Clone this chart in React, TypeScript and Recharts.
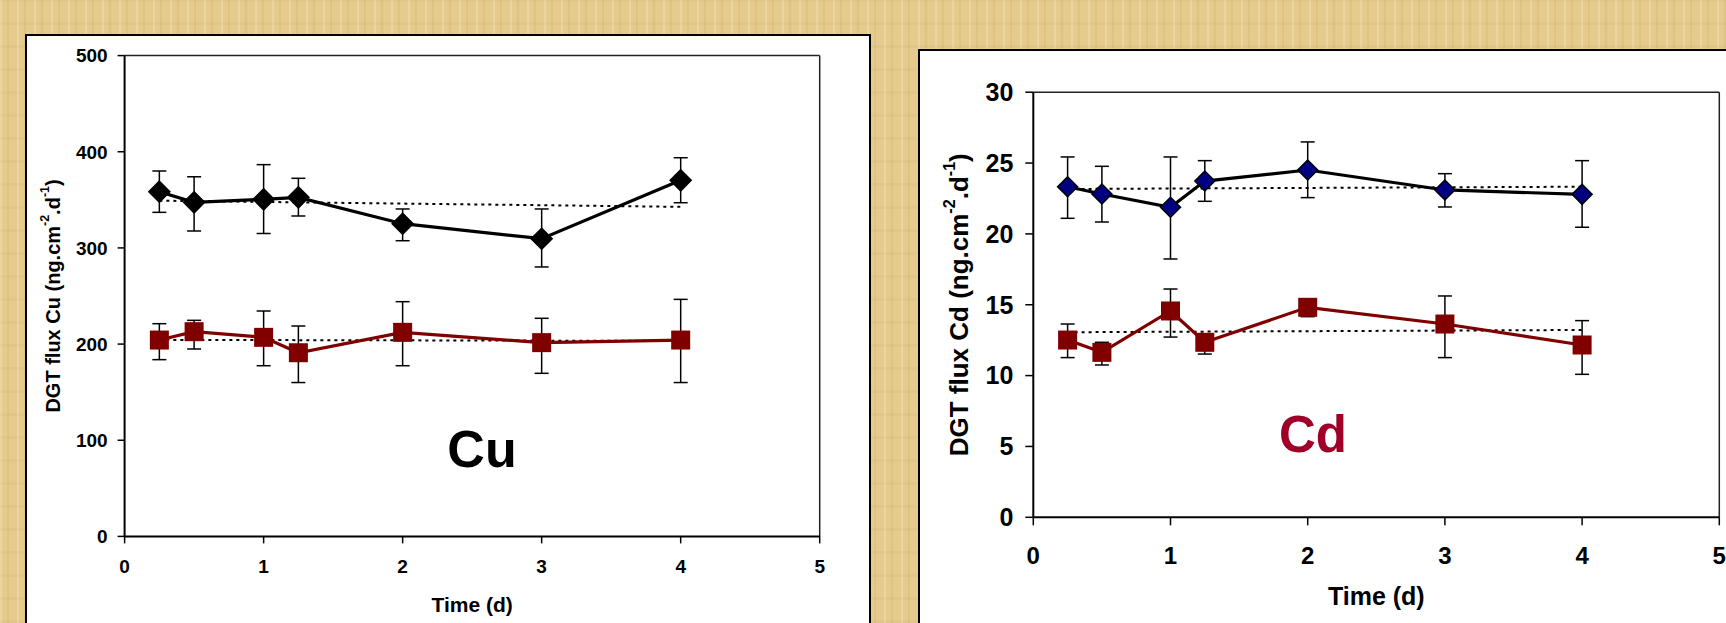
import { LineChart, Line, XAxis, YAxis, ErrorBar, ReferenceLine } from "recharts";

// time points (d)
const days = [0.25, 0.5, 1, 1.25, 2, 3, 4];
const trendDays = [0.25, 4];
const xTicks = [0, 1, 2, 3, 4, 5];

// Cu panel
const cuTicks = [0, 100, 200, 300, 400, 500];
const cuHigh = [358.5, 347.4, 350.5, 352.6, 325.2, 309.6, 370.3];
const cuHighTop = [380, 374, 386.6, 372.4, 340.5, 340.5, 393.8];
const cuHighBottom = [337, 317.6, 315, 333.2, 307.5, 280.2, 347];
const cuLow = [204.2, 212.9, 207, 191, 212.2, 201.5, 204.2];
const cuLowTop = [221.2, 224.7, 234.4, 218.8, 244.1, 226.8, 246.5];
const cuLowBottom = [183.8, 194.9, 177.5, 160, 177.5, 169.6, 160];
const cuHighTrend = [349.1, 342.7];
const cuLowTrend = [204.4, 203.3];

// Cd panel
const cdTicks = [0, 5, 10, 15, 20, 25, 30];
const cdHigh = [23.33, 22.82, 21.88, 23.73, 24.51, 23.1, 22.79];
const cdHighTop = [25.43, 24.77, 25.43, 25.17, 26.49, 24.25, 25.17];
const cdHighBottom = [21.1, 20.84, 18.23, 22.3, 22.56, 21.9, 20.47];
const cdLow = [12.51, 11.64, 14.56, 12.35, 14.82, 13.64, 12.16];
const cdLowTop = [13.64, 12.35, 16.11, 12.92, 15.25, 15.62, 13.88];
const cdLowBottom = [11.27, 10.75, 12.72, 11.52, 14.16, 11.27, 10.09];
const cdHighTrend = [23.17, 23.33];
const cdLowTrend = [13.06, 13.22];

const FONT = "'Liberation Sans', Arial, sans-serif";
const RED = "#800000";
const Y_AXIS_W = 60;
const X_AXIS_H = 30;

const rows = (v: number[], top: number[], bottom: number[]) =>
  days.map((t, i) => ({ t, v: v[i], err: [v[i] - bottom[i], top[i] - v[i]] }));
const trend = (v: number[]) => trendDays.map((t, i) => ({ t, v: v[i] }));

const diamond = (fill: string, r: number) => (p: any) => {
  const { cx, cy, index } = p;
  if (cx == null || cy == null) return <g key={index} />;
  return (
    <path
      key={index}
      d={`M${cx},${cy - r}L${cx + r},${cy}L${cx},${cy + r}L${cx - r},${cy}Z`}
      fill={fill}
      stroke="#000"
      strokeWidth={1.5}
    />
  );
};

const square = (s: number) => (p: any) => {
  const { cx, cy, index } = p;
  if (cx == null || cy == null) return <g key={index} />;
  return <rect key={index} x={cx - s / 2} y={cy - s / 2} width={s} height={s} fill={RED} />;
};

function yTitle(metal: string, size: number, dist: number, fallback: any) {
  return (props: any) => {
    const vb = props.viewBox && props.viewBox.height ? props.viewBox : fallback;
    const cx = vb.x + (vb.width || 0) - dist;
    const cy = vb.y + vb.height / 2;
    const sup = size * 0.62;
    const rise = size * 0.4;
    return (
      <text
        x={cx}
        y={cy}
        transform={`rotate(-90, ${cx}, ${cy})`}
        textAnchor="middle"
        dominantBaseline="central"
        fontFamily={FONT}
        fontWeight="bold"
        fontSize={size}
        fill="#000"
      >
        {`DGT flux ${metal} (ng.cm`}
        <tspan fontSize={sup} dy={-rise}>-2</tspan>
        <tspan dy={rise}>.d</tspan>
        <tspan fontSize={sup} dy={-rise}>-1</tspan>
        <tspan dy={rise}>)</tspan>
      </text>
    );
  };
}

type PanelProps = {
  left: number;
  width: number;
  height: number;
  plot: { top: number; right: number; bottom: number; left: number };
  metal: string;
  yTicks: number[];
  high: any[];
  low: any[];
  highTrend: any[];
  lowTrend: any[];
  highFill: string;
  tickFont: number;
  xTickFont: number;
  xTitleFont: number;
  yTitleFont: number;
  yTitleDist: number;
  yTick: { size: number; margin: number };
  xTick: { size: number; margin: number };
  xTitleOffset: number;
  markR: number;
  sq: number;
};

function Panel(p: PanelProps) {
  const yMax = p.yTicks[p.yTicks.length - 1];
  const margin = {
    top: p.plot.top,
    right: p.width - p.plot.right,
    bottom: p.height - p.plot.bottom - X_AXIS_H,
    left: p.plot.left - Y_AXIS_W,
  };
  const fallback = {
    x: p.plot.left - Y_AXIS_W,
    width: Y_AXIS_W,
    y: p.plot.top,
    height: p.plot.bottom - p.plot.top,
  };
  return (
    <div style={{ position: "absolute", left: p.left, top: 0 }}>
      <LineChart width={p.width} height={p.height} margin={margin} style={{ overflow: "visible" }}>
        <XAxis
          dataKey="t"
          type="number"
          domain={[0, 5]}
          ticks={xTicks}
          height={X_AXIS_H}
          axisLine={{ stroke: "#000", strokeWidth: 2 }}
          tickLine={{ stroke: "#000", strokeWidth: 1.5 }}
          tickSize={p.xTick.size}
          tickMargin={p.xTick.margin}
          tick={{ fontSize: p.xTickFont, fontWeight: "bold", fill: "#000", fontFamily: FONT }}
          label={{
            value: "Time (d)",
            position: "bottom",
            offset: p.xTitleOffset - X_AXIS_H,
            fontSize: p.xTitleFont,
            fontWeight: "bold",
            fill: "#000",
            fontFamily: FONT,
          }}
        />
        <YAxis
          type="number"
          domain={[0, yMax]}
          ticks={p.yTicks}
          width={Y_AXIS_W}
          axisLine={{ stroke: "#000", strokeWidth: 2 }}
          tickLine={{ stroke: "#000", strokeWidth: 1.5 }}
          tickSize={p.yTick.size}
          tickMargin={p.yTick.margin}
          tick={{ fontSize: p.tickFont, fontWeight: "bold", fill: "#000", fontFamily: FONT }}
          label={{ content: yTitle(p.metal, p.yTitleFont, p.yTitleDist, fallback) }}
        />
        <ReferenceLine y={yMax} stroke="#222" strokeWidth={1.5} />
        <ReferenceLine x={5} stroke="#222" strokeWidth={1.5} />
        <Line
          data={p.highTrend}
          dataKey="v"
          stroke="#000"
          strokeWidth={2}
          strokeDasharray="3 4"
          dot={false}
          activeDot={false}
          isAnimationActive={false}
        />
        <Line
          data={p.lowTrend}
          dataKey="v"
          stroke="#000"
          strokeWidth={2}
          strokeDasharray="3 4"
          dot={false}
          activeDot={false}
          isAnimationActive={false}
        />
        <Line
          data={p.high}
          dataKey="v"
          stroke="#000"
          strokeWidth={3.2}
          dot={diamond(p.highFill, p.markR)}
          activeDot={false}
          isAnimationActive={false}
        >
          <ErrorBar dataKey="err" direction="y" width={7} stroke="#000" strokeWidth={1.5} />
        </Line>
        <Line
          data={p.low}
          dataKey="v"
          stroke={RED}
          strokeWidth={3.2}
          dot={square(p.sq)}
          activeDot={false}
          isAnimationActive={false}
        >
          <ErrorBar dataKey="err" direction="y" width={7} stroke="#000" strokeWidth={1.5} />
        </Line>
      </LineChart>
    </div>
  );
}

// papyrus-like backdrop
const paper =
  "repeating-linear-gradient(90deg, rgba(255,248,225,0.22) 0 2px, rgba(0,0,0,0) 2px 7px, rgba(170,125,45,0.10) 7px 9px, rgba(0,0,0,0) 9px 17px)," +
  "repeating-linear-gradient(0deg, rgba(180,140,60,0.08) 0 3px, rgba(0,0,0,0) 3px 23px)," +
  "#E5CB8E";

export default function App() {
  return (
    <div
      style={{
        position: "absolute",
        left: 0,
        top: 0,
        width: 1726,
        height: 623,
        overflow: "hidden",
        background: paper,
      }}
    >
      <div
        style={{
          position: "absolute",
          left: 25,
          top: 34,
          width: 846,
          height: 640,
          background: "#fff",
          border: "2px solid #000",
          boxSizing: "border-box",
        }}
      />
      <div
        style={{
          position: "absolute",
          left: 918,
          top: 49,
          width: 840,
          height: 640,
          background: "#fff",
          border: "2px solid #000",
          boxSizing: "border-box",
        }}
      />
      <Panel
        left={0}
        width={900}
        height={623}
        plot={{ top: 55.6, right: 819.7, bottom: 536.4, left: 124.6 }}
        metal="Cu"
        yTicks={cuTicks}
        high={rows(cuHigh, cuHighTop, cuHighBottom)}
        low={rows(cuLow, cuLowTop, cuLowBottom)}
        highTrend={trend(cuHighTrend)}
        lowTrend={trend(cuLowTrend)}
        highFill="#000"
        tickFont={19}
        xTickFont={19}
        xTitleFont={21}
        yTitleFont={20}
        yTitleDist={72}
        yTick={{ size: 7, margin: 10 }}
        xTick={{ size: 7, margin: 16 }}
        xTitleOffset={61}
        markR={10.5}
        sq={19}
      />
      <Panel
        left={900}
        width={826}
        height={623}
        plot={{ top: 92.2, right: 819.3, bottom: 517.3, left: 133.3 }}
        metal="Cd"
        yTicks={cdTicks}
        high={rows(cdHigh, cdHighTop, cdHighBottom)}
        low={rows(cdLow, cdLowTop, cdLowBottom)}
        highTrend={trend(cdHighTrend)}
        lowTrend={trend(cdLowTrend)}
        highFill="#000080"
        tickFont={25}
        xTickFont={24}
        xTitleFont={25}
        yTitleFont={26}
        yTitleDist={74}
        yTick={{ size: 8, margin: 12 }}
        xTick={{ size: 8, margin: 22 }}
        xTitleOffset={70}
        markR={10}
        sq={19}
      />
      <svg
        width={1726}
        height={623}
        style={{ position: "absolute", left: 0, top: 0, pointerEvents: "none" }}
      >
        <text x={482} y={467} textAnchor="middle" fontFamily={FONT} fontWeight="bold" fontSize={52} fill="#000">
          Cu
        </text>
        <text x={1313} y={452} textAnchor="middle" fontFamily={FONT} fontWeight="bold" fontSize={51} fill="#A00028">
          Cd
        </text>
      </svg>
    </div>
  );
}
